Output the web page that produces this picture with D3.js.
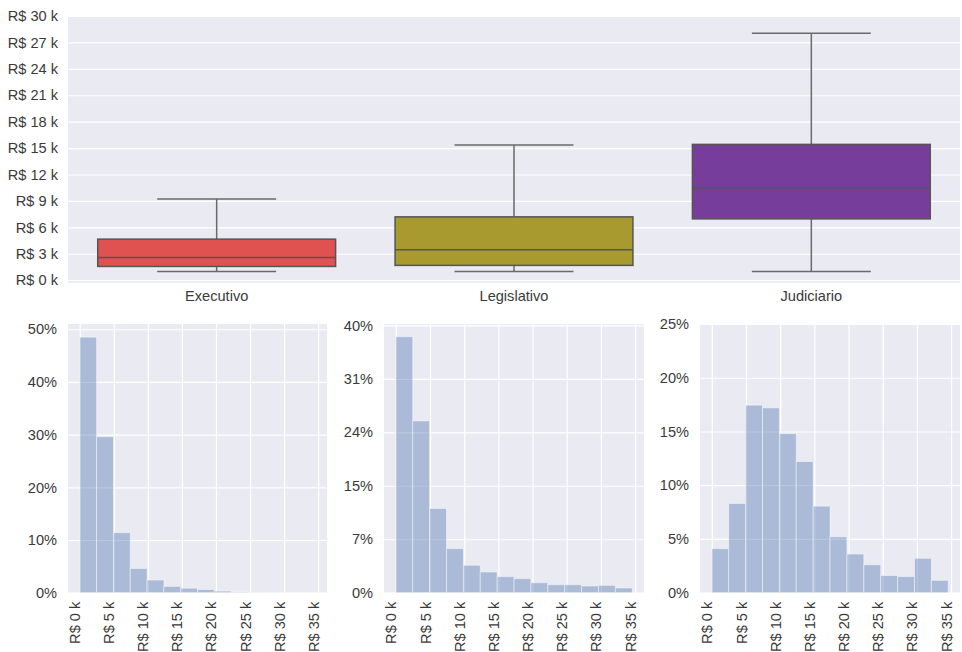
<!DOCTYPE html>
<html>
<head>
<meta charset="utf-8">
<script src="https://cdn.jsdelivr.net/npm/d3@7"></script>
<style>
  html, body { margin: 0; padding: 0; background: #ffffff; }
  svg { display: block; font-family: "Liberation Sans", Arial, sans-serif; }
  .tick text { fill: #3a3a3a; font-size: 14.6px; }
</style>
</head>
<body>
<svg id="chart" width="962" height="652"></svg>
<script>
// Salary spread per branch of government (values in R$)
const categories = ["Executivo", "Legislativo", "Judiciario"];
const boxColors = ["#e0524f", "#a89a2f", "#763d9b"];
const whiskerLow = [998, 998, 998];
const quartile1 = [1560, 1680, 6960];
const median = [2580, 3450, 10500];
const quartile3 = [4660, 7190, 15420];
const whiskerHigh = [9230, 15340, 28050];
const boxTicks = [0, 3000, 6000, 9000, 12000, 15000, 18000, 21000, 24000, 27000, 30000];

// Salary histograms (share of employees per bin, %), bins in thousands of R$
const binWidthK = 2.47;
const histExecutivo = [48.5, 29.6, 11.4, 4.6, 2.4, 1.2, 0.85, 0.6, 0.3, 0.1, 0.05, 0.04, 0.03, 0.02];
const histLegislativo = [38.3, 25.7, 12.6, 6.6, 4.1, 3.1, 2.4, 2.1, 1.5, 1.2, 1.2, 1.0, 1.1, 0.7];
const histJudiciario = [4.1, 8.3, 17.45, 17.2, 14.8, 12.2, 8.05, 5.2, 3.6, 2.6, 1.6, 1.5, 3.2, 1.15];
const histXTicks = [0, 5, 10, 15, 20, 25, 30, 35];
const histYTicks1 = [0, 10, 20, 30, 40, 50];
const histYLabels1 = ["0%", "10%", "20%", "30%", "40%", "50%"];
const histYTicks2 = [0, 8, 16, 24, 32, 40];
const histYLabels2 = ["0%", "7%", "15%", "24%", "31%", "40%"];
const histYTicks3 = [0, 5, 10, 15, 20, 25];
const histYLabels3 = ["0%", "5%", "10%", "15%", "20%", "25%"];

const svg = d3.select("#chart");
const bg = "#eaeaf2";

// ---------- Box plot ----------
const boxArea = { x0: 68, x1: 960, y0: 16, y1: 283 };
const xBand = d3.scaleBand().domain(categories).range([boxArea.x0, boxArea.x1]).padding(0);
const yBox = d3.scaleLinear().domain([-320, 30000]).range([boxArea.y1, boxArea.y0]);

const gTop = svg.append("g");
gTop.append("rect")
  .attr("x", boxArea.x0).attr("y", boxArea.y0)
  .attr("width", boxArea.x1 - boxArea.x0).attr("height", boxArea.y1 - boxArea.y0)
  .attr("fill", bg);

const yAxisTop = gTop.append("g")
  .attr("transform", `translate(${boxArea.x0},0)`)
  .call(d3.axisLeft(yBox).tickValues(boxTicks)
    .tickSize(-(boxArea.x1 - boxArea.x0)).tickPadding(10)
    .tickFormat(d => `R$ ${d / 1000} k`));
yAxisTop.select(".domain").remove();
yAxisTop.selectAll(".tick line").attr("stroke", "#ffffff").attr("stroke-width", 1.2);

const xAxisTop = gTop.append("g")
  .attr("transform", `translate(0,${boxArea.y1})`)
  .call(d3.axisBottom(xBand).tickSize(0).tickPadding(8));
xAxisTop.select(".domain").remove();

const boxW = xBand.bandwidth() * 0.8;
const lineColor = "#555555";
const whiskerColor = "#6a6a6a";
categories.forEach((c, i) => {
  const cx = xBand(c) + xBand.bandwidth() / 2;
  const g = gTop.append("g");
  // whiskers
  g.append("line").attr("x1", cx).attr("x2", cx)
    .attr("y1", yBox(whiskerHigh[i])).attr("y2", yBox(quartile3[i]))
    .attr("stroke", whiskerColor).attr("stroke-width", 1.5);
  g.append("line").attr("x1", cx).attr("x2", cx)
    .attr("y1", yBox(quartile1[i])).attr("y2", yBox(whiskerLow[i]))
    .attr("stroke", whiskerColor).attr("stroke-width", 1.5);
  // caps
  [whiskerHigh[i], whiskerLow[i]].forEach(v => {
    g.append("line").attr("x1", cx - boxW / 4).attr("x2", cx + boxW / 4)
      .attr("y1", yBox(v)).attr("y2", yBox(v))
      .attr("stroke", whiskerColor).attr("stroke-width", 1.5);
  });
  // box
  g.append("rect")
    .attr("x", cx - boxW / 2).attr("y", yBox(quartile3[i]))
    .attr("width", boxW).attr("height", yBox(quartile1[i]) - yBox(quartile3[i]))
    .attr("fill", boxColors[i]).attr("stroke", lineColor).attr("stroke-width", 1.5);
  // median
  g.append("line").attr("x1", cx - boxW / 2).attr("x2", cx + boxW / 2)
    .attr("y1", yBox(median[i])).attr("y2", yBox(median[i]))
    .attr("stroke", lineColor).attr("stroke-width", 1.5);
});

// ---------- Histograms ----------
const panels = [
  { x0: 68, x1: 327, data: histExecutivo, yMax: 51, ticks: histYTicks1, labels: histYLabels1 },
  { x0: 384, x1: 644, data: histLegislativo, yMax: 40.2, ticks: histYTicks2, labels: histYLabels2 },
  { x0: 700, x1: 960, data: histJudiciario, yMax: 25, ticks: histYTicks3, labels: histYLabels3 }
];
const hy0 = 324, hy1 = 592.7;

panels.forEach(p => {
  const g = svg.append("g");
  const x = d3.scaleLinear().domain([-1.73, 36.3]).range([p.x0, p.x1]);
  const y = d3.scaleLinear().domain([0, p.yMax]).range([hy1, hy0]);

  g.append("rect").attr("x", p.x0).attr("y", hy0)
    .attr("width", p.x1 - p.x0).attr("height", hy1 - hy0).attr("fill", bg);

  const ya = g.append("g").attr("transform", `translate(${p.x0},0)`)
    .call(d3.axisLeft(y).tickValues(p.ticks).tickSize(-(p.x1 - p.x0)).tickPadding(11)
      .tickFormat((d, i) => p.labels[i]));
  ya.select(".domain").remove();
  ya.selectAll(".tick line").attr("stroke", "#ffffff").attr("stroke-width", 1.2);

  const xa = g.append("g").attr("transform", `translate(0,${hy1})`)
    .call(d3.axisBottom(x).tickValues(histXTicks).tickSize(-(hy1 - hy0)).tickPadding(0)
      .tickFormat(d => `R$ ${d} k`));
  xa.select(".domain").remove();
  xa.selectAll(".tick line").attr("stroke", "#ffffff").attr("stroke-width", 1.2);
  xa.selectAll(".tick text")
    .attr("text-anchor", "end")
    .attr("transform", "translate(0,9) rotate(-90)")
    .attr("x", 0).attr("y", 0).attr("dy", "0");

  g.selectAll("rect.bar").data(p.data).join("rect")
    .attr("class", "bar")
    .attr("x", (d, i) => x(i * binWidthK))
    .attr("width", (d, i) => x((i + 1) * binWidthK) - x(i * binWidthK))
    .attr("y", d => y(d))
    .attr("height", d => hy1 - y(d))
    .attr("fill", "#4c72b0").attr("fill-opacity", 0.4)
    .attr("stroke", "#ffffff").attr("stroke-opacity", 0.45).attr("stroke-width", 1);
});
</script>
</body>
</html>
